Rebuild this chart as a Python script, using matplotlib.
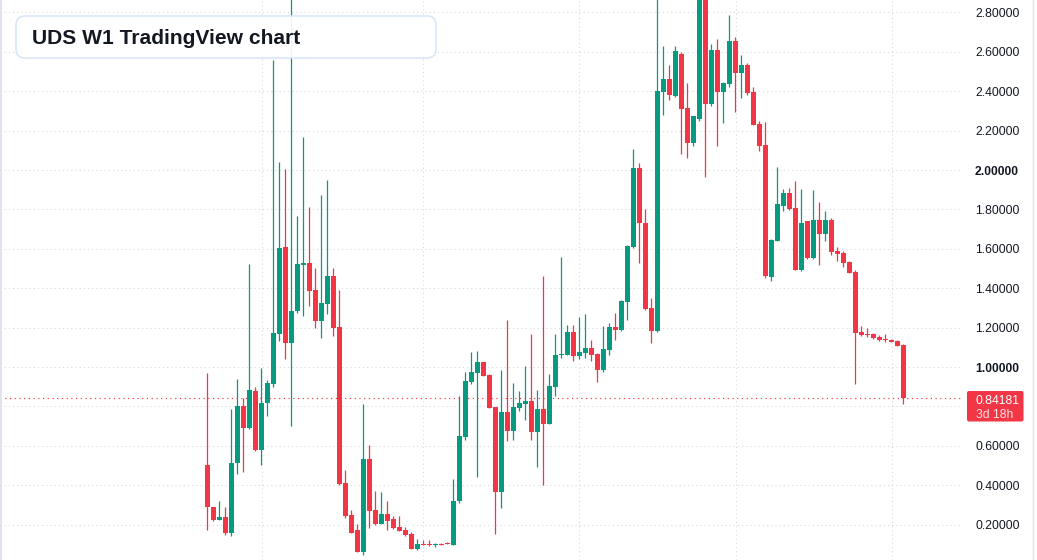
import matplotlib
matplotlib.use("Agg")
import matplotlib.pyplot as plt
from matplotlib.patches import FancyBboxPatch
from matplotlib.lines import Line2D
from matplotlib.transforms import blended_transform_factory

# weekly candles, oldest first
opens = [0.502, 0.290, 0.225, 0.240, 0.155, 0.513, 0.801, 0.692, 0.877, 0.580,
         0.817, 0.915, 1.168, 1.610, 1.123, 1.282, 1.516, 1.530, 1.389, 1.232,
         1.320, 1.462, 1.203, 0.412, 0.249, 0.171, 0.061, 0.532, 0.273, 0.202,
         0.252, 0.227, 0.186, 0.171, 0.151, 0.075, 0.100, 0.100, 0.095, 0.100,
         0.107, 0.097, 0.319, 0.646, 0.925, 0.971, 1.025, 0.960, 0.797, 0.366,
         0.771, 0.676, 0.793, 0.813, 0.827, 0.671, 0.786, 0.712, 0.900, 1.061,
         1.061, 1.178, 1.058, 1.073, 1.097, 1.066, 0.985, 1.087, 1.203, 1.188,
         1.331, 1.607, 2.012, 1.733, 1.298, 1.183, 2.396, 2.462, 2.376, 2.589,
         2.315, 2.138, 2.260, 2.920, 2.336, 2.609, 2.397, 2.437, 2.655, 2.493,
         2.533, 2.397, 2.235, 2.128, 1.458, 1.640, 1.818, 1.882, 1.806, 1.493,
         1.740, 1.552, 1.745, 1.674, 1.745, 1.588, 1.578, 1.532, 1.481, 1.177,
         1.167, 1.167, 1.152, 1.141, 1.138, 1.131, 1.111]
highs = [0.969, 0.290, 0.319, 0.290, 0.788, 0.938, 0.841, 1.525, 0.897, 0.995,
         0.933, 2.560, 2.039, 2.003, 3.050, 1.764, 2.166, 1.811, 1.501, 1.871,
         1.947, 1.501, 1.389, 0.475, 0.276, 0.202, 0.812, 0.603, 0.369, 0.364,
         0.319, 0.244, 0.244, 0.186, 0.164, 0.129, 0.120, 0.120, 0.108, 0.105,
         0.112, 0.430, 0.854, 0.975, 1.078, 1.081, 1.025, 0.964, 0.797, 0.985,
         1.239, 0.919, 0.878, 1.005, 1.168, 0.883, 1.463, 0.964, 1.168, 1.559,
         1.214, 1.214, 1.254, 1.269, 1.137, 1.071, 1.208, 1.224, 1.275, 1.341,
         1.620, 2.108, 2.037, 1.804, 1.348, 2.950, 2.630, 2.535, 2.630, 2.600,
         2.442, 2.275, 2.950, 2.950, 2.640, 2.665, 2.447, 2.786, 2.675, 2.584,
         2.543, 2.422, 2.250, 2.245, 1.652, 2.014, 1.902, 1.907, 1.943, 1.902,
         1.740, 1.897, 1.836, 1.791, 1.755, 1.608, 1.588, 1.537, 1.491, 1.207,
         1.197, 1.172, 1.162, 1.167, 1.141, 1.136, 1.116]
lows = [0.173, 0.216, 0.225, 0.149, 0.140, 0.457, 0.466, 0.687, 0.573, 0.502,
        0.750, 0.900, 1.132, 1.042, 0.701, 1.272, 1.257, 1.308, 1.199, 1.148,
        1.268, 1.157, 0.400, 0.234, 0.158, 0.061, 0.047, 0.183, 0.197, 0.202,
        0.173, 0.180, 0.166, 0.142, 0.075, 0.071, 0.095, 0.091, 0.086, 0.097,
        0.102, 0.097, 0.308, 0.630, 0.915, 0.442, 0.956, 0.793, 0.152, 0.285,
        0.622, 0.630, 0.778, 0.732, 0.630, 0.493, 0.402, 0.712, 0.854, 1.044,
        1.061, 1.030, 1.041, 1.046, 1.030, 0.924, 0.976, 1.061, 1.137, 1.183,
        1.239, 1.602, 1.526, 1.289, 1.120, 1.176, 2.280, 2.356, 2.371, 2.083,
        2.062, 2.123, 2.250, 1.966, 2.326, 2.123, 2.240, 2.422, 2.295, 2.366,
        2.381, 2.229, 2.098, 1.450, 1.437, 1.640, 1.792, 1.796, 1.493, 1.488,
        1.547, 1.547, 1.519, 1.639, 1.568, 1.537, 1.507, 1.476, 0.913, 1.157,
        1.152, 1.141, 1.131, 1.126, 1.126, 1.106, 0.812]
closes = [0.289, 0.225, 0.240, 0.155, 0.513, 0.801, 0.692, 0.882, 0.580, 0.819,
          0.919, 1.172, 1.603, 1.123, 1.284, 1.521, 1.530, 1.386, 1.232, 1.324,
          1.462, 1.199, 0.406, 0.245, 0.158, 0.061, 0.532, 0.269, 0.202, 0.252,
          0.219, 0.183, 0.166, 0.146, 0.075, 0.103, 0.095, 0.095, 0.099, 0.097,
          0.102, 0.319, 0.651, 0.929, 0.975, 1.025, 0.956, 0.793, 0.366, 0.771,
          0.676, 0.797, 0.817, 0.827, 0.671, 0.786, 0.712, 0.903, 1.061, 1.066,
          1.178, 1.058, 1.076, 1.097, 1.061, 0.985, 1.092, 1.203, 1.188, 1.336,
          1.615, 2.012, 1.733, 1.293, 1.183, 2.402, 2.462, 2.381, 2.604, 2.310,
          2.138, 2.275, 2.920, 2.336, 2.609, 2.397, 2.442, 2.655, 2.493, 2.533,
          2.391, 2.229, 2.123, 1.460, 1.644, 1.826, 1.882, 1.801, 1.493, 1.730,
          1.552, 1.745, 1.674, 1.745, 1.583, 1.573, 1.527, 1.476, 1.172, 1.162,
          1.162, 1.147, 1.136, 1.136, 1.126, 1.106, 0.84181]

# price scale (0.8 label is hidden under the last-price box, grid line stays)
price_ticks = [0.2, 0.4, 0.6, 0.8, 1.0, 1.2, 1.4, 1.6, 1.8, 2.0, 2.2, 2.4, 2.6, 2.8]
label_ticks = [0.2, 0.4, 0.6, 1.0, 1.2, 1.4, 1.6, 1.8, 2.0, 2.2, 2.4, 2.6, 2.8]
bold_ticks = [1.0, 2.0]
# time grid lines (in candle index units)
time_grid = [9.1, 36.0, 62.0, 88.1, 114.1]

last_price = closes[-1]
countdown = "3d 18h"
title = "UDS W1 TradingView chart"

GREEN = "#089981"
RED = "#f23645"
TXT = "#131722"
GRID = "#d3d6dd"

plt.rcParams["font.family"] = ["Liberation Sans", "DejaVu Sans"]

fig = plt.figure(figsize=(10.37, 5.60), dpi=100)
ax = fig.add_axes([0, 0, 963 / 1037, 1])
ax.set_xlim(-34.55, 125.95)
ax.set_ylim(0.0203, 2.863)
ax.axis("off")

# grid
for p in price_ticks:
    ax.axhline(p, color=GRID, lw=0.75, ls=(0, (1, 3)), zorder=0)
for t in time_grid:
    ax.axvline(t, color=GRID, lw=0.75, ls=(0, (1, 3)), zorder=0)

# candles
idx = list(range(len(closes)))
colors = [GREEN if c >= o else RED for o, c in zip(opens, closes)]
bottoms = [min(o, c) for o, c in zip(opens, closes)]
heights = [max(abs(c - o), 0.006) for o, c in zip(opens, closes)]
ax.vlines(idx, lows, highs, colors=colors, lw=0.9, zorder=2)
ax.bar(idx, heights, bottom=bottoms, width=0.8, color=colors, linewidth=0, zorder=3)

# last price line
ax.axhline(last_price, color=RED, lw=0.85, ls=(0, (1, 3)), zorder=1)

# price labels on the right
tr = blended_transform_factory(fig.transFigure, ax.transData)
for p in label_ticks:
    ax.text(975 / 1037, p, "%.5f" % p, transform=tr, ha="left", va="center_baseline",
            fontsize=8.7, color=TXT, fontweight="bold" if p in bold_ticks else "normal",
            clip_on=False)

# red last price box
inch = fig.dpi_scale_trans
fig.patches.append(FancyBboxPatch((9.67, 1.385), 0.565, 0.305, boxstyle="round,pad=0,rounding_size=0.02",
                                  transform=inch, facecolor=RED, edgecolor="none"))
fig.text(9.755 / 10.37, 1.608 / 5.60, "%.5f" % last_price, ha="left", va="center_baseline",
         fontsize=8.7, color="white")
fig.text(9.755 / 10.37, 1.468 / 5.60, countdown, ha="left", va="center_baseline",
         fontsize=8.7, color="white", alpha=0.85)

# borders of the chart pane
fig.add_artist(Line2D([0.8 / 1037, 0.8 / 1037], [0, 1], color="#e0e3eb", lw=1.5))
fig.add_artist(Line2D([1032.5 / 1037, 1032.5 / 1037], [0, 1], color="#e0e3eb", lw=1))

# title box
fig.patches.append(FancyBboxPatch((0.16, 5.02), 4.2, 0.42, boxstyle="round,pad=0,rounding_size=0.09",
                                  transform=inch, facecolor="white", alpha=0.92,
                                  edgecolor="#d6e4fb", linewidth=1.2))
fig.text(0.32 / 10.37, 5.157 / 5.60, title, ha="left", va="baseline",
         fontsize=15.1, fontweight="bold", color=TXT)

fig.savefig("out.png", dpi=100)
